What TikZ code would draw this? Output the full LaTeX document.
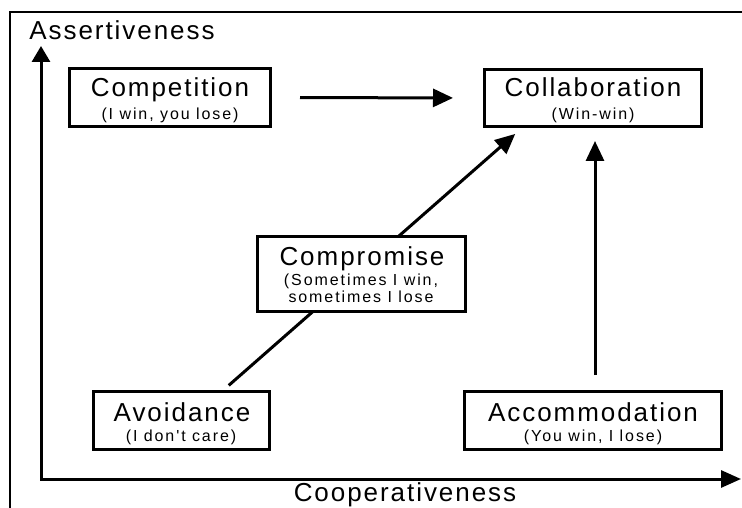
\documentclass[tikz,border=0pt]{standalone}
\usepackage{fontspec}
\setmainfont{Liberation Sans}
\newfontfamily\bigfont{Liberation Sans}[LetterSpace=7.5]
\newfontfamily\smallfont{Liberation Sans}[LetterSpace=12]
\usetikzlibrary{arrows.meta,backgrounds}

\begin{document}
\begin{tikzpicture}[x=1pt,y=1pt,yscale=-1,
  box/.style={draw,line width=3pt,fill=white,inner sep=0pt},
  head/.style={anchor=base,inner sep=0pt,font=\bigfont\fontsize{26}{30}\selectfont},
  note/.style={anchor=base,inner sep=0pt,font=\smallfont\fontsize{16}{19}\selectfont},
  arr/.style={line width=3pt,-{Triangle[length=20pt,width=18pt]}}]
\useasboundingbox (0,0) rectangle (742,508);

%Straight Lines [frame]
\draw[line width=2pt] (10,508) -- (10,12) -- (742,12);

%Straight Lines [axes]
\coordinate (origin) at (41,479);
\coordinate (ytip) at (41,46);
\coordinate (xtip) at (741,479);
\draw[line width=3pt,{Triangle[length=16pt,width=18pt]}-{Triangle[length=20pt,width=17pt]}] (ytip) -- (origin) -- (xtip);

%Shape: Rectangle [competition]
\node[box,minimum width=201pt,minimum height=58pt] (comp) at (170,97.5) {};
%Shape: Rectangle [collaboration]
\node[box,minimum width=217pt,minimum height=57pt] (collab) at (593,98) {};
%Shape: Rectangle [compromise]
\node[box,minimum width=208pt,minimum height=75pt] (compro) at (361.5,274) {};
%Shape: Rectangle [avoidance]
\node[box,minimum width=176pt,minimum height=58pt] (avoid) at (181.5,420.5) {};
%Shape: Rectangle [accommodation]
\node[box,minimum width=257pt,minimum height=58pt] (accom) at (593,420.5) {};

% Text Node
\node[head] (yaxis) at (122,40) {Assertiveness};
% Text Node
\node[head] (xaxis) at (405,501.5) {Cooperativeness};
% Text Node
\node[head] (comp-t) at (170,97) {Competition};
\node[note] (comp-s) at (170,120) {(I win, you lose)};
% Text Node
\node[head] (collab-t) at (593,97) {Collaboration};
\node[note] (collab-s) at (593,120) {(Win-win)};
% Text Node
\node[head] (compro-t) at (362,265) {Compromise};
\node[note] (compro-s1) at (361,285) {(Sometimes I win,};
\node[note] (compro-s2) at (361,302) {sometimes I lose};
% Text Node
\node[head] (avoid-t) at (182,421) {Avoidance};
\node[note] (avoid-s) at (181,441) {(I don't care)};
% Text Node
\node[head] (accom-t) at (593,421) {Accommodation};
\node[note] (accom-s) at (593,441) {(You win, I lose)};

%Arrows
\draw[arr,shorten <=28pt,shorten >=30pt] (comp.east) -- (collab.west);
\draw[arr,shorten <=15pt,shorten >=13pt] ([xshift=2pt]accom.north) -- ([xshift=2pt]collab.south);
\begin{scope}[on background layer]
\draw[arr,shorten <=7pt,shorten >=9pt] ([xshift=42pt]avoid.north) -- ([xshift=-71pt]collab.south);
\end{scope}

\end{tikzpicture}
\end{document}
